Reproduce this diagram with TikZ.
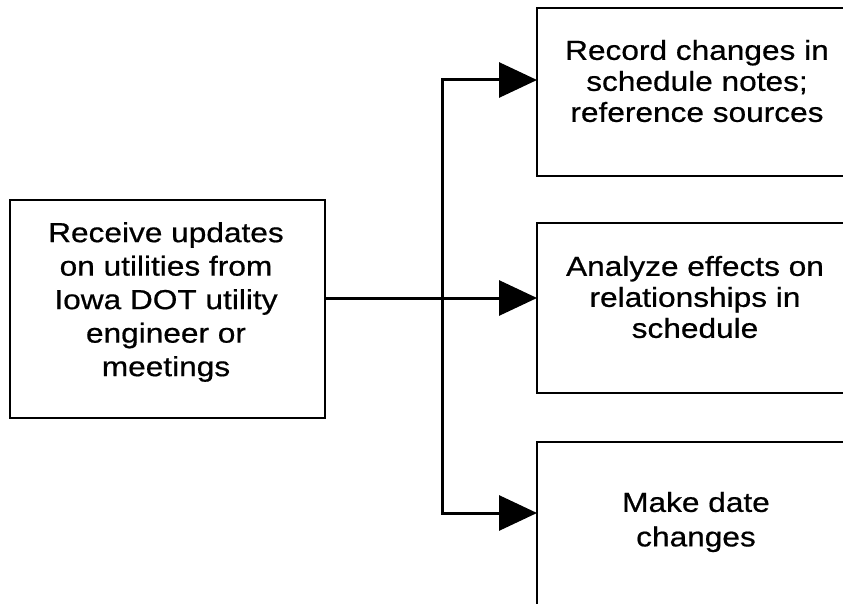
\documentclass[tikz,border=0pt]{standalone}
\usepackage{fontspec}
\setmainfont{Liberation Sans}[FakeStretch=1.15,FakeBold=0.6]
\usetikzlibrary{arrows.meta}
\tikzset{
  box/.style={draw=black, line width=2pt, rectangle, inner sep=0pt, outer sep=0pt, anchor=north west},
  txt/.style={align=center, inner sep=0pt, outer sep=0pt, anchor=center},
  line/.style={draw=black, line width=3pt},
  conn/.style={line, -{Triangle[length=38pt,width=35pt]}},
}
\begin{document}
\begin{tikzpicture}[x=1pt, y=-1pt]
\useasboundingbox (0,0) rectangle (843,604);
\clip (0,0) rectangle (843,604);
\fill[white] (0,0) rectangle (843,604);
% boxes
\node[box, minimum width=315pt, minimum height=218pt] (L) at (10,200) {};
\node[box, minimum width=320pt, minimum height=168pt] (R1) at (537,8) {};
\node[box, minimum width=320pt, minimum height=170pt] (R2) at (537,223) {};
\node[box, minimum width=320pt, minimum height=200pt] (R3) at (537,442) {};
% texts
\node[txt, font=\fontsize{27.5}{33.5}\selectfont] (Lt) at (166,302) {Receive updates\\on utilities from\\Iowa DOT utility\\engineer or\\meetings};
\node[txt, font=\fontsize{27.5}{31}\selectfont] (R1t) at (697,81) {Record changes in\\schedule notes;\\reference sources};
\node[txt, font=\fontsize{27.5}{31}\selectfont] (R2t) at (695,297) {Analyze effects on\\relationships in\\schedule};
\node[txt, font=\fontsize{27.5}{34.5}\selectfont] (R3t) at (696,522) {Make date\\changes};
% connectors
\coordinate (J) at (442,298);
\coordinate (T) at (442,80);
\coordinate (Bt) at (442,513);
\draw[line] (T) -- (Bt);
\draw[conn] (L.east |- J) -- (R2.west |- J);
\draw[conn, line cap=rect] (T) -- (R1.west |- T);
\draw[conn, line cap=rect] (Bt) -- (R3.west |- Bt);
\end{tikzpicture}
\end{document}
